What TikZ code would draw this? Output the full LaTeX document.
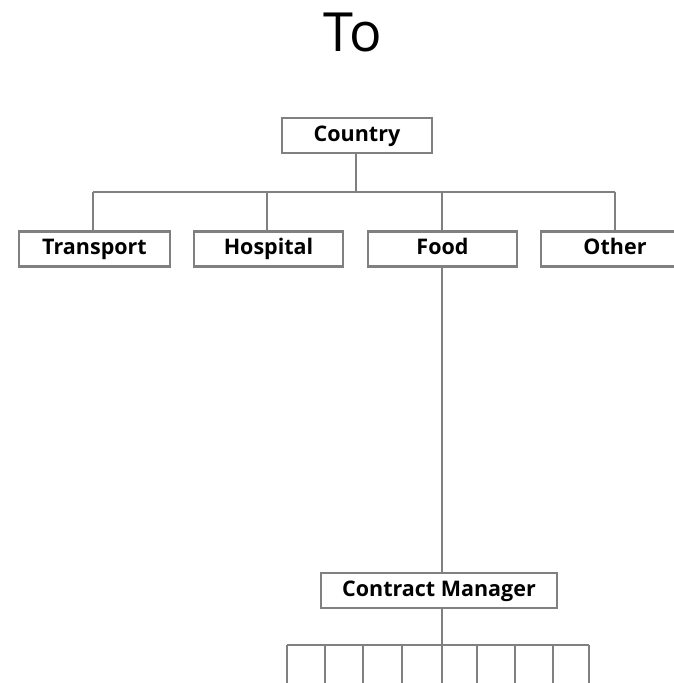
\documentclass[tikz,border=0pt]{standalone}
\usepackage{fontspec}
\setmainfont{Open Sans}
\definecolor{linegray}{HTML}{808080}
\tikzset{
  box/.style={draw=linegray, line width=2.2pt, fill=white, minimum height=35pt, inner sep=0pt, text height=15pt, text depth=4pt, font=\fontsize{21.5}{24}\selectfont\bfseries, text=black},
  conn/.style={draw=linegray, line width=2.2pt},
}
\begin{document}
\begin{tikzpicture}[x=1pt,y=-1pt]
\useasboundingbox (0,0) rectangle (674,683);
\clip (0,0) rectangle (674,683);
\node[font=\fontsize{54}{60}\selectfont, text=black] (title) at (353,32) {To};
\node[box, minimum width=150pt] (country) at (357,135.5) {Country};
\node[box, minimum width=151pt] (transport) at (94.5,249) {Transport};
\node[box, minimum width=149pt] (hospital) at (268.5,249) {Hospital};
\node[box, minimum width=149pt] (food) at (442.5,249) {Food};
\node[box, minimum width=148pt] (other) at (615,249) {Other};
\node[box, minimum width=236pt] (cm) at (439,590.5) {Contract Manager};
\coordinate (busL) at (93,192);
\coordinate (busR) at (615,192);
\draw[conn] (356,153) -- (356,192);
\draw[conn] (busL) -- (busR);
\draw[conn] (busL) -- (transport.north -| busL);
\draw[conn] (267,192) -- (hospital.north -| 267,0);
\draw[conn] (442,192) -- (food.north -| 442,0);
\draw[conn] (busR) -- (other.north -| busR);
\draw[conn] (food.south -| 442,0) -- (cm.north -| 442,0);
\coordinate (bus2) at (442,645);
\draw[conn] (cm.south -| bus2) -- (bus2);
\draw[conn] (287,645) -- (589,645);
\foreach \x/\n in {287/a,325/b,363/c,402/d,442/e,477/f,515/g,553/h,589/i}{
  \coordinate (t\n) at (\x,645);
  \coordinate (b\n) at (\x,684);
  \draw[conn] (t\n) -- (b\n);
}
\end{tikzpicture}
\end{document}
